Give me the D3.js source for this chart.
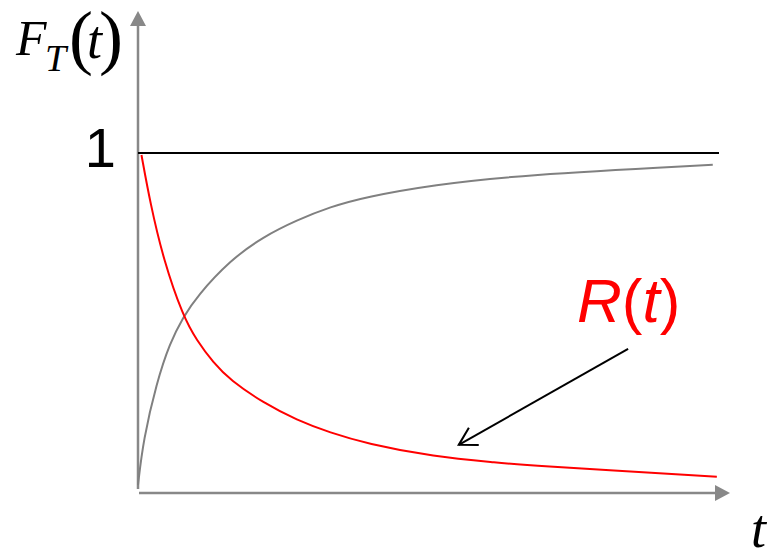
<!DOCTYPE html>
<html>
<head>
<meta charset="utf-8">
<script src="https://cdn.jsdelivr.net/npm/d3@7"></script>
<style>
  html, body { margin: 0; padding: 0; background: #fff; }
  svg { display: block; }
</style>
</head>
<body>
<script>
// Failure distribution F_T(t) and reliability R(t) = 1 - F_T(t)
const tF = [0, 0.09, 0.32, 0.55, 0.78, 1.01, 1.59, 2.16, 2.74, 3.31, 3.94, 5.09, 6.59, 9.91];
const valuesF = [0.02, 0.153, 0.322, 0.440, 0.516, 0.576, 0.684, 0.753, 0.802, 0.841, 0.871, 0.906, 0.935, 0.965];

const tR = [0.06, 0.21, 0.44, 0.78, 1.01, 1.30, 1.59, 2.16, 2.74, 3.31, 3.94, 5.09, 6.24, 6.59, 9.98];
const valuesR = [0.994, 0.853, 0.684, 0.517, 0.448, 0.381, 0.330, 0.263, 0.212, 0.175, 0.143, 0.104, 0.086, 0.080, 0.045];

const yTicks = [1];
const tLimit = [0, 10];
const labelPos = { t: 7.57, v: 0.501 };
const pointer = { from: [8.45, 0.422], to: [5.53, 0.139] };

const W = 772, H = 550;
const svg = d3.select("body").append("svg").attr("width", W).attr("height", H);
svg.append("rect").attr("width", W).attr("height", H).attr("fill", "#fff");

const x = d3.scaleLinear().domain(tLimit).range([138, 718]);
const y = d3.scaleLinear().domain([0, 1]).range([492, 153]);

const axisColor = "#888";

// y axis with arrowhead
svg.append("line")
  .attr("x1", x(0)).attr("x2", x(0))
  .attr("y1", y(0) - 3).attr("y2", 24)
  .attr("stroke", axisColor).attr("stroke-width", 2.5);
svg.append("path")
  .attr("d", `M${x(0)},11 L${x(0) - 8},26 L${x(0) + 8},26 Z`)
  .attr("fill", axisColor);

// x axis with arrowhead
svg.append("line")
  .attr("x1", x(0) + 1).attr("x2", 717)
  .attr("y1", y(0) + 1).attr("y2", y(0) + 1)
  .attr("stroke", axisColor).attr("stroke-width", 2.5);
svg.append("path")
  .attr("d", `M730,${y(0) + 1} L715,${y(0) - 7} L715,${y(0) + 9} Z`)
  .attr("fill", axisColor);

// asymptote at 1
svg.selectAll(".asym").data(yTicks).enter().append("line")
  .attr("x1", x(0)).attr("x2", x(10) + 1)
  .attr("y1", d => y(d)).attr("y2", d => y(d))
  .attr("stroke", "#000").attr("stroke-width", 2);

svg.selectAll(".ylab").data(yTicks).enter().append("text")
  .attr("x", x(0) - 22).attr("y", d => y(d) + 14)
  .attr("text-anchor", "end")
  .attr("font-family", "Liberation Sans, Arial, sans-serif")
  .attr("font-size", 56)
  .attr("fill", "#000")
  .text(d => d);

const line = d3.line().curve(d3.curveBasis)
  .x(d => x(d[0])).y(d => y(d[1]));

svg.append("path")
  .attr("d", line(d3.zip(tF, valuesF)))
  .attr("fill", "none").attr("stroke", "#808080").attr("stroke-width", 2);

svg.append("path")
  .attr("d", line(d3.zip(tR, valuesR)))
  .attr("fill", "none").attr("stroke", "#ff0000").attr("stroke-width", 2);

// pointer arrow to R(t)
const [fx, fy] = [x(pointer.from[0]), y(pointer.from[1])];
const [hx, hy] = [x(pointer.to[0]), y(pointer.to[1])];
svg.append("line")
  .attr("x1", fx).attr("y1", fy).attr("x2", hx).attr("y2", hy)
  .attr("stroke", "#000").attr("stroke-width", 2);
const ang = Math.atan2(fy - hy, fx - hx);
const barb = 20, spread = Math.PI / 6;
svg.append("path")
  .attr("d", `M${hx + barb * Math.cos(ang - spread)},${hy + barb * Math.sin(ang - spread)} L${hx},${hy} L${hx + barb * Math.cos(ang + spread)},${hy + barb * Math.sin(ang + spread)}`)
  .attr("fill", "none").attr("stroke", "#000").attr("stroke-width", 2);

// R(t) label
const rLab = svg.append("text")
  .attr("x", x(labelPos.t)).attr("y", y(labelPos.v))
  .attr("font-family", "Liberation Sans, Arial, sans-serif")
  .attr("font-size", 62).attr("fill", "#ff0000");
rLab.append("tspan").attr("font-style", "italic").text("R");
rLab.append("tspan").text("(");
rLab.append("tspan").attr("font-style", "italic").text("t");
rLab.append("tspan").text(")");

// F_T(t) axis title
const serif = "Liberation Serif, Times New Roman, serif";
const g = svg.append("g").attr("font-family", serif).attr("fill", "#000");
g.append("text").attr("x", 16).attr("y", 55).attr("font-size", 50).attr("font-style", "italic").text("F");
g.append("text").attr("x", 45).attr("y", 71).attr("font-size", 38).attr("font-style", "italic").text("T");
g.append("text").attr("x", 69).attr("y", 61).attr("font-size", 72).text("(");
g.append("text").attr("x", 87).attr("y", 58).attr("font-size", 54).attr("font-style", "italic").text("t");
g.append("text").attr("x", 99).attr("y", 61).attr("font-size", 72).text(")");

// t axis title
svg.append("text").attr("x", 751).attr("y", 547)
  .attr("font-family", serif).attr("font-size", 54).attr("font-style", "italic")
  .attr("fill", "#000").text("t");
</script>
</body>
</html>
